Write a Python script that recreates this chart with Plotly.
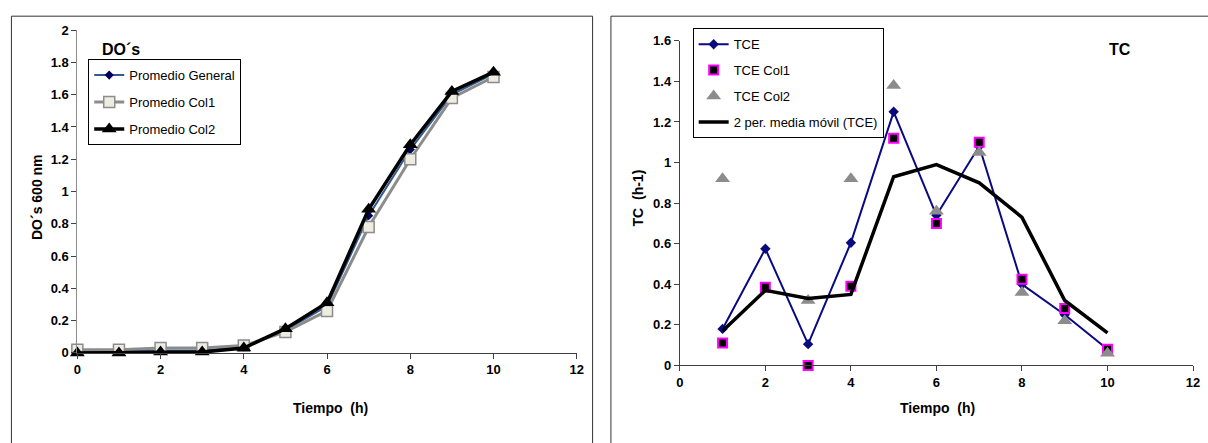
import plotly.graph_objects as go

# ---------------- data ----------------
tiempo_do = [0, 1, 2, 3, 4, 5, 6, 7, 8, 9, 10]
prom_general = [0.01, 0.01, 0.015, 0.015, 0.035, 0.14, 0.29, 0.85, 1.26, 1.60, 1.73]
prom_col1 = [0.02, 0.02, 0.03, 0.03, 0.045, 0.13, 0.26, 0.78, 1.20, 1.58, 1.71]
prom_col2 = [0.0, 0.0, 0.005, 0.005, 0.03, 0.15, 0.31, 0.89, 1.29, 1.62, 1.74]

tiempo_tc = [1, 2, 3, 4, 5, 6, 7, 8, 9, 10]
tce = [0.18, 0.575, 0.105, 0.605, 1.25, 0.74, 1.08, 0.40, 0.25, 0.08]
tce_col1 = [0.11, 0.385, 0.0, 0.39, 1.12, 0.70, 1.10, 0.425, 0.28, 0.08]
tce_col2 = [0.92, None, 0.32, 0.92, 1.38, 0.76, 1.05, 0.36, 0.22, 0.06]
media_movil = [0.17, 0.37, 0.33, 0.35, 0.93, 0.99, 0.90, 0.73, 0.32, 0.16]

x_ticks = [0, 2, 4, 6, 8, 10, 12]

# ---------------- styling ----------------
W, H = 1208, 443
FONT = "Liberation Sans, Arial, sans-serif"

def px(x):
    return x / W

def py(y):
    return 1 - y / H

fig = go.Figure()

# Left chart
fig.add_trace(go.Scatter(x=tiempo_do, y=prom_general, name="Promedio General",
                         mode="lines+markers", legendgroup="a",
                         line=dict(color="#2F5B8E", width=2),
                         marker=dict(symbol="diamond", size=7, color="#00005A"),
                         xaxis="x", yaxis="y", legend="legend", cliponaxis=False))
fig.add_trace(go.Scatter(x=tiempo_do, y=prom_col1, name="Promedio Col1",
                         mode="lines+markers", legendgroup="b",
                         line=dict(color="#8C8C8C", width=3),
                         marker=dict(symbol="square", size=11, color="#ECECE0",
                                     line=dict(color="#8C8C8C", width=1.5)),
                         xaxis="x", yaxis="y", legend="legend", cliponaxis=False))
fig.add_trace(go.Scatter(x=tiempo_do, y=prom_col2, name="Promedio Col2",
                         mode="lines+markers", legendgroup="c",
                         line=dict(color="#000000", width=3.5),
                         marker=dict(symbol="triangle-up", size=13, color="#000000"),
                         xaxis="x", yaxis="y", legend="legend", cliponaxis=False))

# Right chart
fig.add_trace(go.Scatter(x=tiempo_tc, y=tce, name="TCE",
                         mode="lines+markers", legendgroup="d",
                         line=dict(color="#0A0A80", width=2),
                         marker=dict(symbol="diamond", size=8, color="#0A0A80"),
                         xaxis="x2", yaxis="y2", legend="legend2", cliponaxis=False))
fig.add_trace(go.Scatter(x=tiempo_tc, y=tce_col1, name="TCE Col1",
                         mode="markers", legendgroup="e",
                         marker=dict(symbol="square", size=9, color="#000000",
                                     line=dict(color="#FF00FF", width=2)),
                         xaxis="x2", yaxis="y2", legend="legend2", cliponaxis=False))
fig.add_trace(go.Scatter(x=tiempo_tc, y=tce_col2, name="TCE Col2",
                         mode="markers", legendgroup="f",
                         marker=dict(symbol="triangle-up", size=13, color="#8C8C8C"),
                         xaxis="x2", yaxis="y2", legend="legend2", cliponaxis=False))
fig.add_trace(go.Scatter(x=tiempo_tc, y=media_movil, name="2 per. media móvil (TCE)",
                         mode="lines", legendgroup="g",
                         line=dict(color="#000000", width=3.5),
                         xaxis="x2", yaxis="y2", legend="legend2", cliponaxis=False))

axis_common = dict(showgrid=False, zeroline=False, showline=True,
                   ticks="outside", ticklen=5, tickwidth=1,
                   tickfont=dict(family=FONT, size=13, color="#000000", weight="bold"))

fig.update_layout(
    width=W, height=H,
    margin=dict(l=0, r=0, t=0, b=0),
    paper_bgcolor="white", plot_bgcolor="white",
    font=dict(family=FONT, color="#000000"),
    xaxis=dict(domain=[px(74), px(578)], range=[0, 12], tickvals=x_ticks,
               anchor="y", linecolor="#404040", tickcolor="#404040", **axis_common),
    yaxis=dict(domain=[py(358), py(24)], range=[0, 2], dtick=0.2,
               anchor="x", linecolor="#8C8C8C", tickcolor="#404040", **axis_common),
    xaxis2=dict(domain=[px(682), px(1200)], range=[0, 12], tickvals=x_ticks,
                anchor="y2", linecolor="#404040", tickcolor="#404040", **axis_common),
    yaxis2=dict(domain=[py(371), py(35)], range=[0, 1.6], dtick=0.2,
                anchor="x2", linecolor="#404040", tickcolor="#404040", **axis_common),
    legend=dict(x=px(85), y=py(54), xanchor="left", yanchor="top",
                bordercolor="#000000", borderwidth=1, bgcolor="white",
                font=dict(family=FONT, size=13, color="#000000"),
                traceorder="grouped", tracegroupgap=7, itemwidth=30),
    legend2=dict(x=px(695), y=py(22), xanchor="left", yanchor="top",
                 bordercolor="#000000", borderwidth=1, bgcolor="white",
                 font=dict(family=FONT, size=13, color="#000000"),
                 traceorder="grouped", tracegroupgap=6, itemwidth=30),
    showlegend=True,
)

# panel borders
fig.add_shape(type="rect", xref="paper", yref="paper",
              x0=px(7.5), x1=px(594), y0=-0.05, y1=py(9.5),
              line=dict(color="#333333", width=1), fillcolor="rgba(0,0,0,0)", layer="below")
fig.add_shape(type="rect", xref="paper", yref="paper",
              x0=px(612.5), x1=1.05, y0=-0.05, y1=py(9.5),
              line=dict(color="#333333", width=1), fillcolor="rgba(0,0,0,0)", layer="below")

bold = dict(family=FONT, color="#000000", weight="bold")
fig.add_annotation(text="DO´s", xref="paper", yref="paper", x=px(97), y=py(44),
                   xanchor="left", yanchor="middle", showarrow=False,
                   font=dict(size=16, **bold))
fig.add_annotation(text="TC", xref="paper", yref="paper", x=px(1126), y=py(44),
                   xanchor="center", yanchor="middle", showarrow=False,
                   font=dict(size=16, **bold))
fig.add_annotation(text="Tiempo  (h)", xref="paper", yref="paper", x=px(330), y=py(415),
                   xanchor="center", yanchor="middle", showarrow=False,
                   font=dict(size=14, **bold))
fig.add_annotation(text="Tiempo  (h)", xref="paper", yref="paper", x=px(942), y=py(415),
                   xanchor="center", yanchor="middle", showarrow=False,
                   font=dict(size=14, **bold))
fig.add_annotation(text="DO´s 600 nm", xref="paper", yref="paper", x=px(34), y=py(197),
                   xanchor="center", yanchor="middle", showarrow=False, textangle=-90,
                   font=dict(size=14, **bold))
fig.add_annotation(text="TC  (h-1)", xref="paper", yref="paper", x=px(640), y=py(198),
                   xanchor="center", yanchor="middle", showarrow=False, textangle=-90,
                   font=dict(size=14, **bold))

fig.write_html("out.html")
